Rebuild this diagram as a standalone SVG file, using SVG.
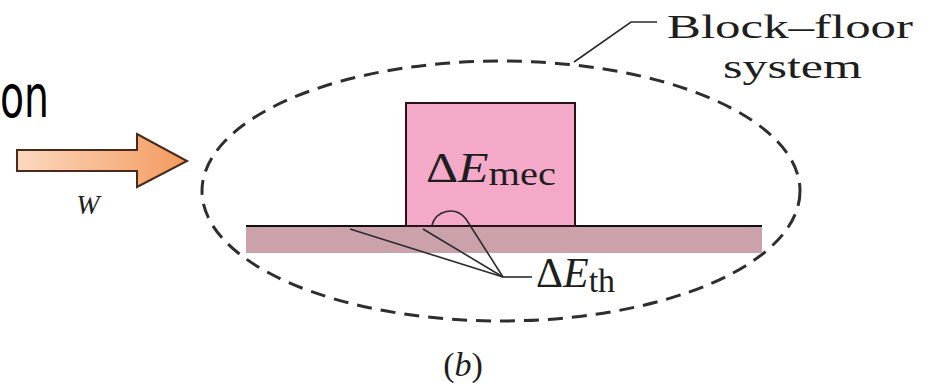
<svg xmlns="http://www.w3.org/2000/svg" width="928" height="383" viewBox="0 0 928 383">
<defs>
<linearGradient id="arrowGrad" x1="0" y1="0" x2="1" y2="0">
<stop offset="0" stop-color="#fcd9c0"/>
<stop offset="1" stop-color="#f39a5e"/>
</linearGradient>
<style>
.serif{font-family:"Liberation Serif","Times New Roman",serif;fill:#1e1e1e}
.lead{fill:none;stroke:#2b2b2b;stroke-width:1.6}
.dash{fill:none;stroke:#2e2e2e;stroke-width:3;stroke-dasharray:15 9}
</style>
</defs>
<rect width="928" height="383" fill="#ffffff"/>
<g id="title">
<text x="0" y="117" font-family="DejaVu Sans, sans-serif" font-size="58" fill="#000" textLength="49" lengthAdjust="spacingAndGlyphs">on</text>
</g>
<g id="system-boundary">
<ellipse class="dash" cx="501" cy="191" rx="299" ry="130"/>
</g>
<g id="floor">
<rect x="246" y="226" width="516" height="27" fill="#cba2a9"/>
<line x1="246" y1="226" x2="762" y2="226" stroke="#111" stroke-width="2"/>
</g>
<g id="block">
<rect x="406" y="103" width="169" height="123" fill="#f5a9c9" stroke="#2a1018" stroke-width="2"/>
<text class="serif" x="426" y="182" font-size="42" textLength="130" lengthAdjust="spacingAndGlyphs">Δ<tspan font-style="italic">E</tspan><tspan font-size="34" dy="3">mec</tspan></text>
</g>
<g id="work-arrow">
<path d="M17,150 L137,150 L137,134 L187,161 L137,187 L137,171 L17,171 Z" fill="url(#arrowGrad)" stroke="#4a2a1a" stroke-width="2" stroke-linejoin="miter"/>
<text class="serif" x="88" y="214" font-size="28" font-style="italic" text-anchor="middle">W</text>
</g>
<g id="connectors">
<path class="lead" d="M574,62 L631,22 L657,22"/>
<path class="lead" d="M350,229 L503,277"/>
<path class="lead" d="M423,229 L503,277"/>
<path class="lead" d="M432,225 C436,211 455,205 466,219 L503,277"/>
<path class="lead" d="M503,277 L532,277"/>
</g>
<g id="label-block-floor">
<text class="serif" x="667" y="38" font-size="33" textLength="246" lengthAdjust="spacingAndGlyphs">Block–floor</text>
<text class="serif" x="723" y="78" font-size="33" textLength="139" lengthAdjust="spacingAndGlyphs">system</text>
</g>
<g id="label-eth">
<text class="serif" x="536" y="287" font-size="42">Δ<tspan font-style="italic">E</tspan><tspan font-size="34" dy="5">th</tspan></text>
</g>
<g id="caption">
<text class="serif" x="463" y="376" font-size="34" text-anchor="middle">(<tspan font-style="italic">b</tspan>)</text>
</g>
</svg>
